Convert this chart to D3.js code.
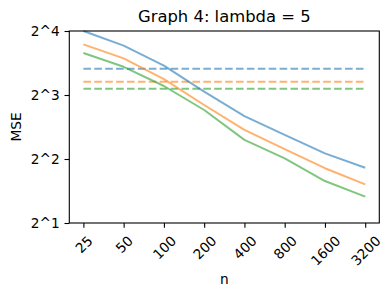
<!DOCTYPE html>
<html>
<head>
<meta charset="utf-8">
<script src="https://cdn.jsdelivr.net/npm/d3@7"></script>
<style>
  html, body { margin: 0; padding: 0; background: #fff; }
  svg { display: block; font-family: "DejaVu Sans", sans-serif; }
</style>
</head>
<body>
<div id="chart"></div>
<script>
// Graph 4: lambda = 5 — MSE vs n (log2 axes)
const sizes = ['25', '50', '100', '200', '400', '800', '1600', '3200'];
const yTicks = [2, 4, 8, 16];
const yTickLabels = ['2^1', '2^2', '2^3', '2^4'];

const mseBlue   = [16.0, 13.65, 10.99, 8.3, 6.37, 5.19, 4.25, 3.64];
const mseOrange = [13.85, 11.9, 9.51, 7.18, 5.48, 4.45, 3.62, 3.04];
const mseGreen  = [12.6, 10.86, 8.82, 6.8, 4.92, 4.03, 3.15, 2.66];

const refBlue = 10.64;
const refOrange = 9.24;
const refGreen = 8.56;

const 색 = { blue: '#1f77b4', orange: '#ff7f0e', green: '#2ca02c' };

const W = 392, H = 297;
const m = { left: 69.3, right: 379.3, top: 31, bottom: 223 };

const svg = d3.select('#chart').append('svg')
  .attr('width', W).attr('height', H).attr('viewBox', `0 0 ${W} ${H}`);

const x = d3.scalePoint().domain(sizes).range([m.left, m.right]).padding(0.35);
const y = d3.scaleLog().base(2).domain([2, 16]).range([m.bottom, m.top]);

const series = [
  { vals: mseBlue, ref: refBlue, c: 색.blue },
  { vals: mseOrange, ref: refOrange, c: 색.orange },
  { vals: mseGreen, ref: refGreen, c: 색.green },
];

const line = d3.line().x((d, i) => x(sizes[i])).y(d => y(d));
const gPlot = svg.append('g');

// 점선 기준선
series.forEach(s => {
  gPlot.append('line')
    .attr('x1', x(sizes[0])).attr('x2', x(sizes[sizes.length - 1]))
    .attr('y1', y(s.ref)).attr('y2', y(s.ref))
    .attr('stroke', s.c).attr('stroke-opacity', 0.6)
    .attr('stroke-width', 2).attr('stroke-dasharray', '7.6 3.3');
});
series.forEach(s => {
  gPlot.append('path').datum(s.vals)
    .attr('d', line).attr('fill', 'none')
    .attr('stroke', s.c).attr('stroke-opacity', 0.6)
    .attr('stroke-width', 2).attr('stroke-linejoin', 'round');
});

// 프레임
svg.append('rect')
  .attr('x', m.left).attr('y', m.top)
  .attr('width', m.right - m.left).attr('height', m.bottom - m.top)
  .attr('fill', 'none').attr('stroke', '#000').attr('stroke-width', 1.1);

const tickLen = 4.8, pad = 4.8, fs = 13.7;

// y축
const yAxis = svg.append('g')
  .attr('transform', `translate(${m.left},0)`)
  .call(d3.axisLeft(y).tickValues(yTicks).tickSize(tickLen).tickPadding(pad)
    .tickFormat((d, i) => yTickLabels[i]));
yAxis.select('.domain').remove();
yAxis.selectAll('line').attr('stroke', '#000').attr('stroke-width', 1.1);
yAxis.selectAll('text').attr('font-size', fs).attr('fill', '#000')
  .attr('font-family', '"DejaVu Sans", sans-serif');

// x축
const xAxis = svg.append('g')
  .attr('transform', `translate(0,${m.bottom})`)
  .call(d3.axisBottom(x).tickSize(tickLen).tickFormat(d => d));
xAxis.select('.domain').remove();
xAxis.selectAll('line').attr('stroke', '#000').attr('stroke-width', 1.1);
const topLbl = tickLen + pad;
xAxis.selectAll('text')
  .attr('font-size', fs).attr('fill', '#000')
  .attr('font-family', '"DejaVu Sans", sans-serif')
  .attr('text-anchor', 'middle').attr('dy', null).attr('y', null)
  .attr('dominant-baseline', 'central')
  .each(function() {
    const w = this.getComputedTextLength();
    const h = fs * 1.16;
    const half = (w + h) / (2 * Math.SQRT2);
    d3.select(this).attr('transform', `translate(0,${topLbl + half}) rotate(-45)`);
  });

// 제목과 축 이름
svg.append('text')
  .attr('x', (m.left + m.right) / 2).attr('y', 22)
  .attr('text-anchor', 'middle').attr('font-size', 16.4)
  .text('Graph 4: lambda = 5');
svg.append('text')
  .attr('x', (m.left + m.right) / 2).attr('y', 284)
  .attr('text-anchor', 'middle').attr('font-size', fs)
  .text('n');
svg.append('text')
  .attr('transform', `translate(21,${(m.top + m.bottom) / 2}) rotate(-90)`)
  .attr('text-anchor', 'middle').attr('font-size', fs)
  .text('MSE');
</script>
</body>
</html>
